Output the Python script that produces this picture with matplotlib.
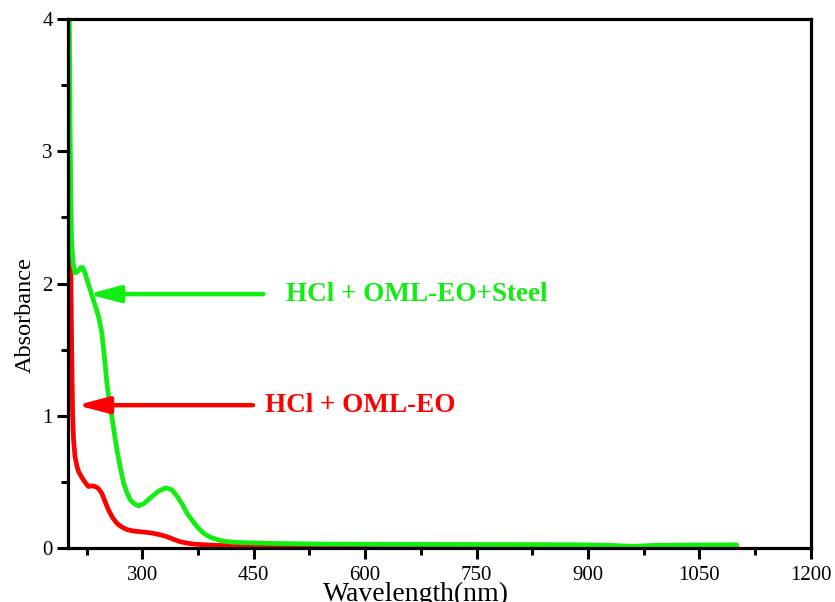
import matplotlib
matplotlib.use("Agg")
import matplotlib.pyplot as plt
from matplotlib.ticker import MultipleLocator, FixedLocator

plt.rcParams['font.family'] = ['Liberation Serif', 'DejaVu Serif']

# UV-Vis absorbance spectra (wavelength in nm)
steel_wl = [201, 202, 203, 204, 205, 207, 209.5, 213, 217, 220, 223, 226, 230, 234, 238,
            242, 245.5, 248, 250, 252, 255, 259, 262, 266, 270, 275, 280, 284, 289, 295,
            302, 311, 322, 332, 340, 347, 354, 360, 367, 374, 383, 392, 405, 420, 440,
            473, 540, 620, 700, 800, 880, 930, 960, 990, 1040, 1100]
steel_abs = [4.4, 3.9, 3.1, 2.55, 2.3, 2.15, 2.08, 2.09, 2.12, 2.12, 2.08, 2.02, 1.95, 1.88,
             1.81, 1.73, 1.63, 1.5, 1.39, 1.27, 1.13, 0.995, 0.88, 0.74, 0.62, 0.49, 0.41,
             0.364, 0.335, 0.318, 0.335, 0.38, 0.43, 0.455, 0.44, 0.39, 0.33, 0.264, 0.21,
             0.16, 0.11, 0.08, 0.057, 0.045, 0.04, 0.035, 0.03, 0.028, 0.027, 0.026,
             0.025, 0.02, 0.013, 0.02, 0.023, 0.024]

eo_wl = [200.5, 202, 203, 204, 205, 206.3, 207.5, 209.5, 212, 214, 217, 220.7, 224, 227.5,
         232, 236.5, 241, 245.5, 250, 254.5, 260, 265.8, 272, 279, 288, 297, 306, 315, 324,
         333, 342, 351, 360, 369, 387, 420, 480, 600, 800, 1000, 1100]
eo_abs = [3.3, 2.9, 2.5, 2.0, 1.5, 1.0, 0.82, 0.69, 0.62, 0.58, 0.55, 0.515, 0.49, 0.465,
          0.47, 0.465, 0.45, 0.414, 0.35, 0.288, 0.23, 0.187, 0.16, 0.14, 0.128, 0.123,
          0.118, 0.111, 0.1, 0.086, 0.066, 0.048, 0.037, 0.03, 0.023, 0.016, 0.012, 0.01,
          0.01, 0.01, 0.01]

x_major = [300, 450, 600, 750, 900, 1050, 1200]
x_minor = [225, 375, 525, 675, 825, 975, 1125]
y_major = [0, 1, 2, 3, 4]

GREEN = '#11EE11'
RED = '#FF0000'

fig = plt.figure(figsize=(8.35, 6.02), dpi=100)
ax = fig.add_axes([0.0814, 0.0897, 0.8896, 0.8786])

ax.plot(eo_wl, eo_abs, color=RED, lw=3.4, solid_joinstyle='round', solid_capstyle='round')
ax.plot(steel_wl, steel_abs, color=GREEN, lw=3.4, solid_joinstyle='round', solid_capstyle='round')

ax.set_xlim(200, 1200)
ax.set_ylim(0, 4)

ax.xaxis.set_major_locator(FixedLocator(x_major))
ax.xaxis.set_minor_locator(FixedLocator(x_minor))
ax.yaxis.set_major_locator(FixedLocator(y_major))
ax.yaxis.set_minor_locator(MultipleLocator(0.5))
ax.set_xticklabels([str(v) for v in x_major])
ax.set_yticklabels([str(v) for v in y_major])

ax.tick_params(axis='both', which='major', direction='out', length=8, width=2.2,
               labelsize=15)
ax.tick_params(axis='x', which='major', pad=5)
ax.tick_params(axis='y', which='major', pad=3)
ax.tick_params(axis='both', which='minor', direction='out', length=5, width=2.2)
ax.tick_params(top=False, right=False, which='both')

for sp in ax.spines.values():
    sp.set_linewidth(2.3)

ax.set_xlabel('Wavelength(nm)', fontsize=20)
ax.xaxis.set_label_coords((416 - 68) / 743, -(582 - 548) / 529)
ax.set_ylabel('Absorbance', fontsize=17.5)
ax.yaxis.set_label_coords((36 - 68) / 743, (548 - 315) / 529)

arrow_kw = dict(arrowstyle='-|>,head_length=0.95,head_width=0.25', lw=3.2,
                mutation_scale=20, shrinkA=0, shrinkB=0)
ax.annotate('', xy=(227, 1.92), xytext=(463, 1.92),
            arrowprops=dict(color=GREEN, **arrow_kw))
ax.annotate('', xy=(212, 1.08), xytext=(449, 1.08),
            arrowprops=dict(color=RED, **arrow_kw))

ax.text(493, 1.92, 'HCl + OML-EO+Steel', color=GREEN, fontsize=19.5, fontweight='bold',
        va='center', ha='left')
ax.text(465, 1.08, 'HCl + OML-EO', color=RED, fontsize=19.5, fontweight='bold',
        va='center', ha='left')

fig.savefig('out.png', dpi=100)
